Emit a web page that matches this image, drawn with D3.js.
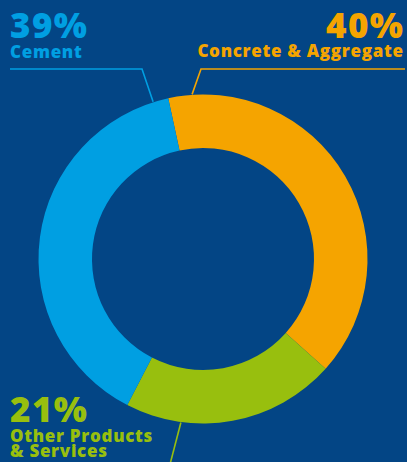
<!DOCTYPE html>
<html>
<head>
<meta charset="utf-8">
<script src="https://cdn.jsdelivr.net/npm/d3@7"></script>
<style>
  html, body { margin: 0; padding: 0; background: #034585; }
  svg { display: block; }
  text { font-family: "Open Sans", "Noto Sans", sans-serif; font-weight: 800; }
</style>
</head>
<body>
<svg id="chart" width="407" height="462"></svg>
<script>
// Revenue share by business line
const categories = ["Concrete & Aggregate", "Other Products & Services", "Cement"];
const shares = [40, 21, 39];
const shareLabels = ["40%", "21%", "39%"];
const nameLines = [["Concrete & Aggregate"], ["Other Products", "& Services"], ["Cement"]];
const colors = ["#f5a400", "#98bf0e", "#009fe2"];

const width = 407, height = 462;
const cx = 203, cy = 259;
const outerR = 164.5, innerR = 111;
const deg = Math.PI / 180;

const svg = d3.select("#chart");

const pie = d3.pie()
  .sort(null)
  .value(d => d)
  .startAngle(-12.2 * deg)
  .endAngle(347.8 * deg);

const arcs = pie(shares);
const arc = d3.arc().innerRadius(innerR).outerRadius(outerR);

const g = svg.append("g").attr("transform", `translate(${cx},${cy})`);

g.selectAll("path.slice")
  .data(arcs)
  .join("path")
  .attr("class", "slice")
  .attr("d", arc)
  .attr("fill", (d, i) => colors[i]);

// Label layout: where each leader meets the ring, its elbow, and its far end
const layout = [
  { anchorAngle: -3.8, elbow: [201, 69], end: [405, 69],
    textX: 403, anchor: "end", pctY: 37.5, nameY: 57 },
  { anchorAngle: 187.7, elbow: null, end: [168, 472],
    textX: 10, anchor: "start", pctY: 421.5, nameY: 441.5 },
  { anchorAngle: -17.6, elbow: [142, 69], end: [10, 69],
    textX: 10, anchor: "start", pctY: 38, nameY: 57.5 }
];

const pctSpacing = 1.4, nameSpacing = 0.7;
const leader = d3.line();

layout.forEach((L, i) => {
  const p = d3.pointRadial(L.anchorAngle * deg, outerR + 0.5);
  const start = [cx + p[0], cy + p[1]];
  const pts = L.elbow ? [start, L.elbow, L.end] : [start, L.end];
  svg.append("path")
    .attr("d", leader(pts))
    .attr("fill", "none")
    .attr("stroke", colors[i])
    .attr("stroke-width", 1.6);

  // trailing letter-spacing shifts end-anchored text; compensate
  const pctX = L.anchor === "end" ? L.textX + pctSpacing : L.textX;
  const nameX = L.anchor === "end" ? L.textX + nameSpacing : L.textX;

  svg.append("text")
    .attr("x", pctX)
    .attr("y", L.pctY)
    .attr("text-anchor", L.anchor)
    .attr("fill", colors[i])
    .attr("font-size", 35)
    .attr("letter-spacing", pctSpacing)
    .text(shareLabels[i]);

  svg.append("text")
    .attr("text-anchor", L.anchor)
    .attr("fill", colors[i])
    .attr("font-size", 17)
    .attr("letter-spacing", nameSpacing)
    .selectAll("tspan")
    .data(nameLines[i])
    .join("tspan")
    .attr("x", nameX)
    .attr("y", (d, j) => L.nameY + j * 15.5)
    .text(d => d);
});
</script>
</body>
</html>
